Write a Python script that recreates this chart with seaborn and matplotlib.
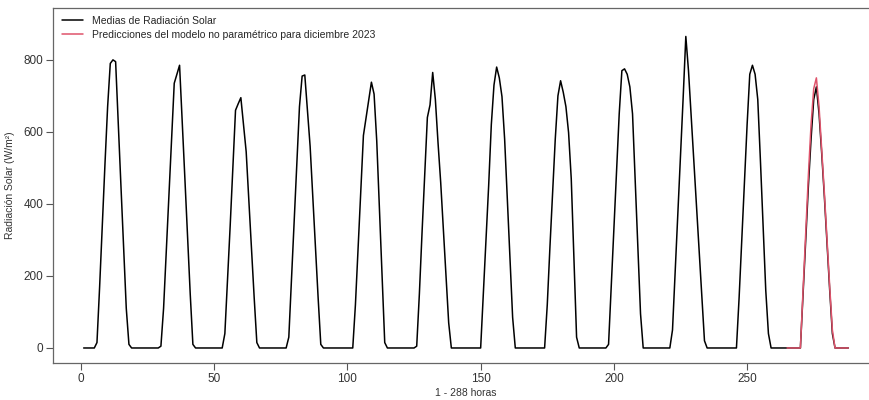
import numpy as np
import pandas as pd
import matplotlib
matplotlib.use("Agg")
import matplotlib.pyplot as plt
import seaborn as sns

# ---- data: hourly mean solar radiation, 12 days x 24 hours ----
dia01 = [0, 0, 0, 0, 0, 15, 170, 340, 510, 670, 790, 800, 795, 620, 450, 280, 110, 10, 0, 0, 0, 0, 0, 0]
dia02 = [0, 0, 0, 0, 0, 5, 110, 265, 420, 580, 735, 760, 785, 630, 470, 310, 150, 10, 0, 0, 0, 0, 0, 0]
dia03 = [0, 0, 0, 0, 0, 40, 190, 340, 500, 660, 678, 695, 620, 545, 410, 275, 140, 15, 0, 0, 0, 0, 0, 0]
dia04 = [0, 0, 0, 0, 0, 30, 190, 350, 510, 670, 755, 758, 660, 560, 420, 280, 140, 10, 0, 0, 0, 0, 0, 0]
dia05 = [0, 0, 0, 0, 0, 0, 120, 275, 430, 590, 640, 690, 738, 705, 575, 390, 200, 15, 0, 0, 0, 0, 0, 0]
dia06 = [0, 0, 0, 0, 0, 5, 150, 320, 480, 640, 675, 765, 690, 570, 460, 330, 200, 70, 0, 0, 0, 0, 0, 0]
dia07 = [0, 0, 0, 0, 0, 0, 150, 300, 450, 620, 730, 780, 750, 698, 580, 415, 250, 85, 0, 0, 0, 0, 0, 0]
dia08 = [0, 0, 0, 0, 0, 0, 120, 280, 430, 580, 700, 742, 710, 670, 598, 470, 250, 30, 0, 0, 0, 0, 0, 0]
dia09 = [0, 0, 0, 0, 0, 10, 170, 330, 490, 650, 770, 775, 760, 725, 650, 465, 280, 95, 0, 0, 0, 0, 0, 0]
dia10 = [0, 0, 0, 0, 0, 50, 210, 370, 535, 695, 865, 770, 645, 520, 395, 270, 145, 20, 0, 0, 0, 0, 0, 0]
dia11 = [0, 0, 0, 0, 0, 0, 140, 300, 460, 620, 760, 785, 760, 690, 520, 340, 160, 40, 0, 0, 0, 0, 0, 0]
dia12 = [0, 0, 0, 0, 0, 0, 150, 300, 450, 580, 690, 725, 650, 540, 420, 290, 160, 40, 0, 0, 0, 0, 0, 0]

# non-parametric model predictions for December 2023 (last day, hours 265-288)
pred12 = [0, 0, 0, 0, 0, 0, 160, 320, 480, 620, 720, 750, 670, 550, 430, 300, 170, 50, 0, 0, 0, 0, 0, 0]

serie_medias = "Medias de Radiación Solar"
serie_pred = "Predicciones del modelo no paramétrico para diciembre 2023"
x_ticks = [0, 50, 100, 150, 200, 250]
y_ticks = [0, 200, 400, 600, 800]

medias = dia01 + dia02 + dia03 + dia04 + dia05 + dia06 + dia07 + dia08 + dia09 + dia10 + dia11 + dia12
horas = list(range(1, len(medias) + 1))
horas_pred = list(range(len(medias) - len(pred12) + 1, len(medias) + 1))

df = pd.concat([
    pd.DataFrame({"hora": horas, "rad": medias, "serie": serie_medias}),
    pd.DataFrame({"hora": horas_pred, "rad": pred12, "serie": serie_pred}),
], ignore_index=True)

# ---- plot ----
sns.set_theme(style="white")
plt.rcParams["font.family"] = ["Liberation Sans", "DejaVu Sans"]

W, H = 870, 400
fig = plt.figure(figsize=(W / 100, H / 100), dpi=100)
ax = fig.add_axes([53 / W, (H - 363) / H, (879 - 53) / W, (363 - 8) / H])

sns.lineplot(data=df, x="hora", y="rad", hue="serie",
             hue_order=[serie_medias, serie_pred],
             palette={serie_medias: "#000000", serie_pred: "#DF536B"},
             linewidth=1.1, ax=ax, estimator=None, sort=False)

ax.set_xlim(-10.5, 299.5)
ax.set_ylim(-41.7, 944)
ax.set_xticks(x_ticks)
ax.set_yticks(y_ticks)
ax.set_xticklabels([str(t) for t in x_ticks], fontsize=8.5, color="#333333")
ax.set_yticklabels([str(t) for t in y_ticks], fontsize=8.5, color="#333333")
ax.tick_params(axis="both", direction="out", length=5, width=0.8, color="#555555",
               bottom=True, left=True, pad=2)

for side in ["left", "bottom", "top", "right"]:
    ax.spines[side].set_visible(True)
    ax.spines[side].set_color("#666666")
    ax.spines[side].set_linewidth(0.9)

ax.set_xlabel("1 - 288 horas", fontsize=7.5, color="#333333", labelpad=2)
ax.set_ylabel("Radiación Solar (W/m²)", fontsize=7.5, color="#333333", labelpad=6)

handles, labels = ax.get_legend_handles_labels()
ax.legend(handles, labels, loc="upper left", frameon=False,
          bbox_to_anchor=(62 / W, 1 - 16 / H), bbox_transform=fig.transFigure,
          fontsize=7.5, handlelength=2.0, handletextpad=0.9,
          labelspacing=0.35, borderpad=0, borderaxespad=0)

fig.savefig("out.png", dpi=100, facecolor="white")
